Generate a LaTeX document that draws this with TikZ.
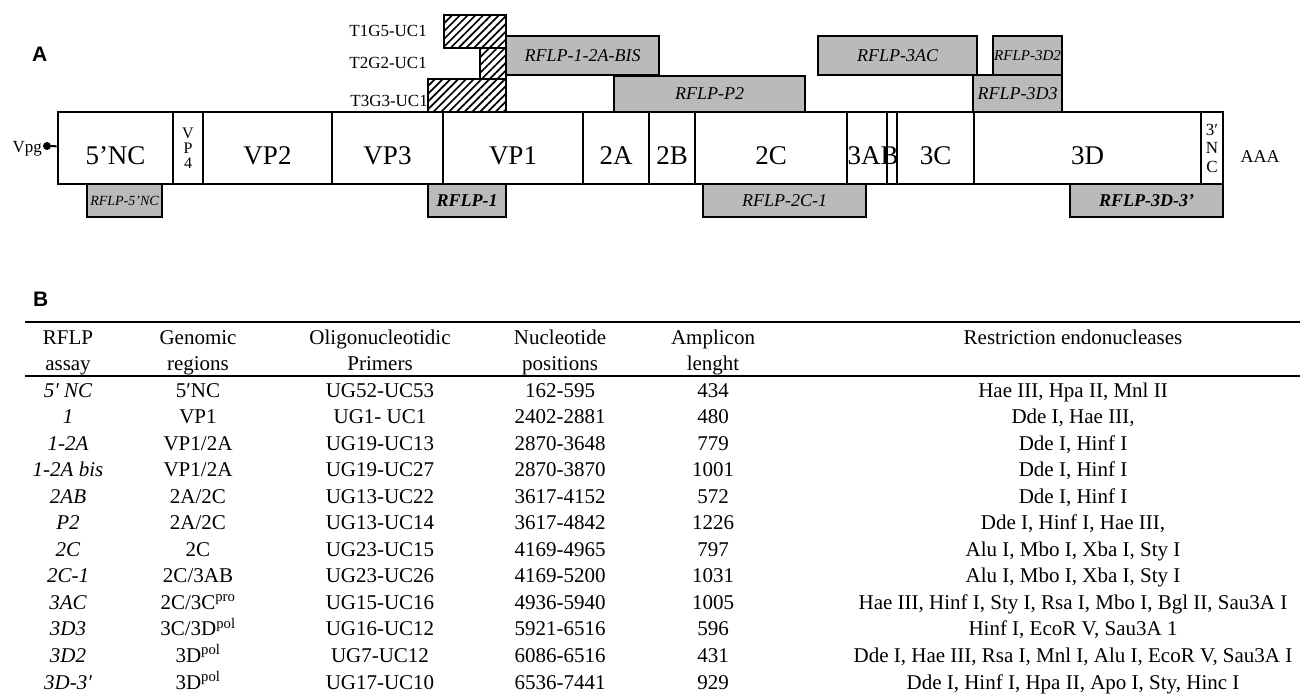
\documentclass[tikz,border=0pt]{standalone}
\usepackage{fontspec}
\setmainfont{Liberation Serif}
\newfontfamily\panelfont{Liberation Sans}
\usetikzlibrary{patterns.meta}

\begin{document}
\begin{tikzpicture}[x=1pt, y=-1pt,
  seg/.style={rectangle, draw, line width=2.6pt, fill=white, inner sep=0pt,
    minimum height=72pt},
  gene/.style={seg, text height=32pt, text depth=0pt,
    font=\fontsize{27}{30}\selectfont},
  thin/.style={seg, align=center, font=\fontsize{16}{15}\selectfont},
  bar/.style={rectangle, draw, line width=2.6pt, fill=black!27, inner sep=0pt,
    font=\fontsize{18}{20}\selectfont\itshape},
  hatch/.style={rectangle, draw, line width=2.6pt, inner sep=0pt,
    pattern={Lines[angle=45, distance=5.5pt, line width=1.7pt]}},
  primer/.style={anchor=base east, inner sep=0pt, font=\fontsize{17}{19}\selectfont},
  cell/.style={anchor=base, inner sep=0pt, font=\fontsize{21}{26}\selectfont},
  acell/.style={cell, font=\fontsize{21}{26}\selectfont\itshape},
  panel/.style={anchor=base west, inner sep=0pt, font=\fontsize{21}{24}\panelfont\bfseries},
  rule/.style={line width=2pt}
]
\useasboundingbox (0,0) rectangle (1300,693);

% Panel A: genome map
\node[panel] (pa) at (32,62) {A};

\node[gene, minimum width=115pt] (nc5) at (115.5,148) {5'NC};
\node[thin, minimum width=30pt] (vp4) at (188,148) {V\\P\\4};
\node[gene, minimum width=129pt] (vp2) at (267.5,148) {VP2};
\node[gene, minimum width=111pt] (vp3) at (387.5,148) {VP3};
\node[gene, minimum width=140pt] (vp1) at (513,148) {VP1};
\node[gene, minimum width=66pt] (p2a) at (616,148) {2A};
\node[gene, minimum width=46pt] (p2b) at (672,148) {2B};
\node[gene, minimum width=152pt] (p2c) at (771,148) {2C};
\node[seg, minimum width=40pt] (p3a) at (867,148) {};
\node[seg, minimum width=10pt] (p3b) at (892,148) {};
\node[gene, minimum width=77pt] (p3c) at (935.5,148) {3C};
\node[gene, minimum width=227pt] (p3d) at (1087.5,148) {3D};
\node[thin, minimum width=22pt, font=\fontsize{17}{18.5}\selectfont] (nc3) at (1212,148) {3′\\N\\C};
\node[gene, draw=none, fill=none] (l3ab) at (873,148) {3AB};

\node[anchor=base east, inner sep=0pt, font=\fontsize{17}{19}\selectfont] (vpg) at (42,152) {Vpg};
\node[circle, fill, inner sep=0pt, minimum size=8pt] (vdot) at (47,146) {};
\draw[line width=2pt] (vdot) -- (nc5);
\node[anchor=base, inner sep=0pt, font=\fontsize{18}{20}\selectfont] (aaa) at (1260,162) {AAA};

% primer boxes
\node[hatch, minimum width=62pt, minimum height=33pt] (t1g5) at (475,31.5) {};
\node[hatch, minimum width=26pt, minimum height=31pt] (t2g2) at (493,63.5) {};
\node[hatch, minimum width=78pt, minimum height=33pt] (t3g3) at (467,95.5) {};
\node[primer] (lt1g5) at (427,37) {T1G5-UC1};
\node[primer] (lt2g2) at (427,68) {T2G2-UC1};
\node[primer] (lt3g3) at (428,106) {T3G3-UC1};

% RFLP amplicons above
\node[bar, minimum width=153pt, minimum height=39pt] (r12a) at (582.5,55.5) {RFLP-1-2A-BIS};
\node[bar, minimum width=191pt, minimum height=36pt] (rp2) at (709.5,94) {RFLP-P2};
\node[bar, minimum width=159pt, minimum height=39pt] (r3ac) at (897.5,55.5) {RFLP-3AC};
\node[bar, minimum width=69pt, minimum height=39pt,
  font=\fontsize{15}{17}\selectfont\itshape] (r3d2) at (1027.5,55.5) {RFLP-3D2};
\node[bar, minimum width=89pt, minimum height=37pt] (r3d3) at (1017.5,93.5) {RFLP-3D3};

% RFLP amplicons below
\node[bar, minimum width=75pt, minimum height=33pt,
  font=\fontsize{14}{16}\selectfont\itshape] (r5nc) at (124.5,200.5) {RFLP-5'NC};
\node[bar, minimum width=78pt, minimum height=33pt,
  font=\fontsize{18}{20}\selectfont\bfseries\itshape] (r1) at (467,200.5) {RFLP-1};
\node[bar, minimum width=163pt, minimum height=33pt] (r2c1) at (784.5,200.5) {RFLP-2C-1};
\node[bar, minimum width=153pt, minimum height=33pt,
  font=\fontsize{18}{20}\selectfont\bfseries\itshape] (r3d3p) at (1146.5,200.5) {RFLP-3D-3'};

% Panel B: table
\node[panel] (pb) at (33,306) {B};
\coordinate (tl1) at (25,322);
\coordinate (tr1) at (1300,322);
\coordinate (tl2) at (25,376);
\coordinate (tr2) at (1300,376);
\draw[rule] (tl1) -- (tr1);
\draw[rule] (tl2) -- (tr2);

\foreach \x/\ta/\tb [count=\j] in {68/RFLP/assay, 198/Genomic/regions,
    380/Oligonucleotidic/Primers, 560/Nucleotide/positions, 713/Amplicon/lenght}{
  \node[cell] (hd-\j) at (\x,344) {\ta};
  \node[cell] (hs-\j) at (\x,370) {\tb};
}
\node[cell] (hd-6) at (1073,344) {Restriction endonucleases};

\foreach \as/\rg/\pr/\np/\al/\re [count=\i from 0] in {
  {5′ NC}/{5′NC}/{UG52-UC53}/{162-595}/434/{Hae III, Hpa II, Mnl II},
  {1}/{VP1}/{UG1- UC1}/{2402-2881}/480/{Dde I, Hae III,},
  {1-2A}/{VP1/2A}/{UG19-UC13}/{2870-3648}/779/{Dde I, Hinf I},
  {1-2A bis}/{VP1/2A}/{UG19-UC27}/{2870-3870}/1001/{Dde I, Hinf I},
  {2AB}/{2A/2C}/{UG13-UC22}/{3617-4152}/572/{Dde I, Hinf I},
  {P2}/{2A/2C}/{UG13-UC14}/{3617-4842}/1226/{Dde I, Hinf I, Hae III,},
  {2C}/{2C}/{UG23-UC15}/{4169-4965}/797/{Alu I, Mbo I, Xba I, Sty I},
  {2C-1}/{2C/3AB}/{UG23-UC26}/{4169-5200}/1031/{Alu I, Mbo I, Xba I, Sty I},
  {3AC}/{2C/3C\textsuperscript{pro}}/{UG15-UC16}/{4936-5940}/1005/{Hae III, Hinf I, Sty I, Rsa I, Mbo I, Bgl II, Sau3A I},
  {3D3}/{3C/3D\textsuperscript{pol}}/{UG16-UC12}/{5921-6516}/596/{Hinf I, EcoR V, Sau3A 1},
  {3D2}/{3D\textsuperscript{pol}}/{UG7-UC12}/{6086-6516}/431/{Dde I, Hae III, Rsa I, Mnl I, Alu I, EcoR V, Sau3A I},
  {3D-3′}/{3D\textsuperscript{pol}}/{UG17-UC10}/{6536-7441}/929/{Dde I, Hinf I, Hpa II, Apo I, Sty, Hinc I}}{
  \pgfmathsetmacro\ry{397+26.55*\i}
  \node[acell] (as-\i) at (68,\ry) {\as};
  \node[cell] (rg-\i) at (198,\ry) {\rg};
  \node[cell] (pr-\i) at (380,\ry) {\pr};
  \node[cell] (np-\i) at (560,\ry) {\np};
  \node[cell] (al-\i) at (713,\ry) {\al};
  \node[cell] (re-\i) at (1073,\ry) {\re};
}

\end{tikzpicture}
\end{document}
